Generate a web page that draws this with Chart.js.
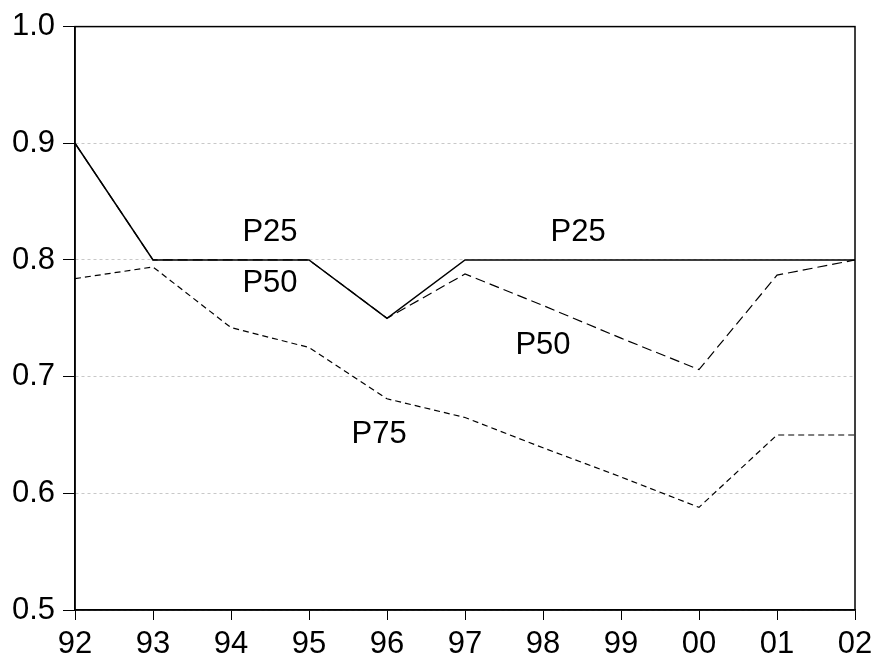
<!DOCTYPE html>
<html>
<head>
<meta charset="utf-8">
<script src="https://cdn.jsdelivr.net/npm/chart.js@4"></script>
<style>
  html, body { margin: 0; padding: 0; background: #fff; }
  #wrap { width: 876px; height: 659px; }
</style>
</head>
<body>
<div id="wrap"><canvas id="c"></canvas></div>
<script>
const years = ["92","93","94","95","96","97","98","99","00","01","02"];
const p25 = [0.900, 0.800, 0.800, 0.800, 0.750, 0.800, 0.800, 0.800, 0.800, 0.800, 0.800];
const p50 = [0.900, 0.800, 0.800, 0.800, 0.750, 0.788, 0.761, 0.733, 0.706, 0.787, 0.800];
const p75 = [0.784, 0.794, 0.742, 0.725, 0.681, 0.665, 0.639, 0.614, 0.588, 0.650, 0.650];
const yTicks = [0.5, 0.6, 0.7, 0.8, 0.9, 1.0];

// text labels placed in data coordinates: [category index, value, text]
const notes = [
  [2.5, 0.8235, "P25"],
  [6.45, 0.8235, "P25"],
  [2.5, 0.780, "P50"],
  [6.0, 0.7265, "P50"],
  [3.9, 0.6505, "P75"]
];

const FONT = "'Liberation Sans', Arial, Helvetica, sans-serif";

const frame = {
  id: "frame",
  afterDraw(chart) {
    const ctx = chart.ctx, a = chart.chartArea;
    const xs = chart.scales.x, ys = chart.scales.y;
    ctx.save();
    ctx.strokeStyle = "#000";
    ctx.lineWidth = 1.5;
    ctx.strokeRect(a.left, a.top, a.right - a.left, a.bottom - a.top);

    ctx.fillStyle = "#000";
    ctx.textAlign = "center";
    ctx.textBaseline = "middle";
    ctx.font = "31px " + FONT;
    notes.forEach(n => {
      ctx.fillText(n[2], xs.getPixelForValue(n[0]), ys.getPixelForValue(n[1]));
    });

    // year labels under the ticks
    xs.ticks.forEach((t, i) => {
      ctx.fillText(years[i], xs.getPixelForTick(i), a.bottom + 34);
    });
    ctx.restore();
  }
};

new Chart(document.getElementById("c"), {
  type: "line",
  data: {
    labels: years,
    datasets: [
      { label: "P25", data: p25, borderColor: "#000", borderWidth: 1.5, pointRadius: 0, tension: 0 },
      { label: "P50", data: p50, borderColor: "#000", borderWidth: 1.2, borderDash: [10, 5], pointRadius: 0, tension: 0 },
      { label: "P75", data: p75, borderColor: "#000", borderWidth: 1.2, borderDash: [6, 4], pointRadius: 0, tension: 0 }
    ]
  },
  options: {
    responsive: true,
    maintainAspectRatio: false,
    animation: false,
    layout: { padding: { top: 25, right: 21, left: 0, bottom: 0 } },
    plugins: { legend: { display: false }, tooltip: { enabled: false } },
    scales: {
      x: {
        offset: false,
        grid: { drawOnChartArea: false, drawTicks: true, tickLength: 10, tickColor: "#000", tickWidth: 1 },
        border: { display: true, color: "#000", width: 1.5 },
        ticks: { color: "rgba(0,0,0,0)", autoSkip: false, maxRotation: 0, font: { size: 12, family: FONT } },
        afterFit(s) { s.height = 49; }
      },
      y: {
        min: 0.5,
        max: 1.0,
        afterBuildTicks(s) { s.ticks = yTicks.map(v => ({ value: v })); },
        grid: {
          color: "#c8c8c8",
          lineWidth: 1,
          tickLength: 12,
          tickColor: "#000",
          tickBorderDash: [],
          tickWidth: 1
        },
        border: { display: true, color: "#000", width: 1.5, dash: [3, 3] },
        ticks: {
          color: "#000",
          padding: 8,
          font: { size: 31, family: FONT },
          callback: v => v.toFixed(1)
        },
        afterFit(s) { s.width = 75; }
      }
    }
  },
  plugins: [frame]
});
</script>
</body>
</html>
